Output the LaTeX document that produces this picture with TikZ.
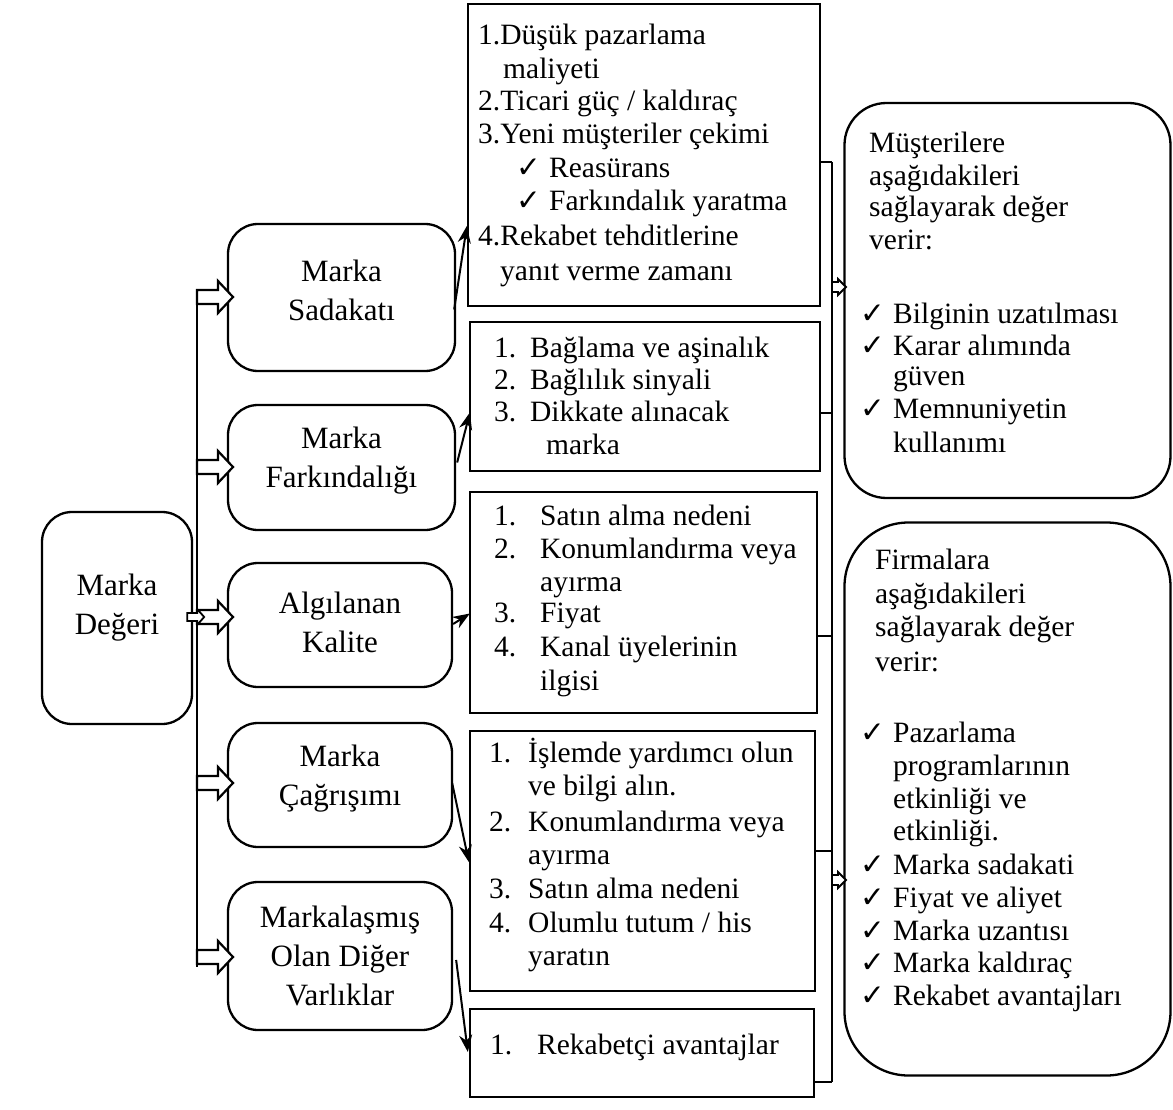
\documentclass[tikz,border=0pt]{standalone}
\usepackage{fontspec}
\setmainfont{Liberation Serif}
\newfontfamily\symfont{DejaVu Sans}
\usetikzlibrary{calc,arrows.meta}

% check mark followed by a fixed gap
\newcommand\ckm{\makebox[33pt][l]{\symfont\char"2713}}
\newcommand\numbox[2]{\makebox[#1][l]{#2}}

\begin{document}
\begin{tikzpicture}[x=1pt,y=-1pt,
  frame/.style={draw, line width=2.3pt, inner sep=0pt},
  roundbox/.style={frame, rounded corners=30pt},
  listbox/.style={frame},
  mtxt/.style={align=center, inner sep=0pt, font=\fontsize{31}{39}\selectfont},
  txt/.style={anchor=mid west, inner sep=0pt, font=\fontsize{29.5}{34}\selectfont},
  thinarrow/.style={line width=2pt, -{Stealth[length=17pt, width=13pt]}},
  wire/.style={line width=2.3pt},
  blockarrow/.style={draw, fill=white, line width=2.2pt, line join=miter}
]
\useasboundingbox (0,0) rectangle (1173,1110);

% ---------- main box ----------
\node[roundbox, minimum width=150pt, minimum height=212pt] (val) at (117,618) {};
\node[mtxt] (valt) at ($(val.center)+(0,-10)$) {Marka\\Değeri};

% ---------- middle boxes ----------
\node[roundbox, minimum width=227pt, minimum height=147pt] (sad) at (341.5,297.5) {};
\node[mtxt] (sadt) at ($(sad.center)+(0,-7)$) {Marka\\Sadakatı};
\node[roundbox, minimum width=227pt, minimum height=125pt] (far) at (341.5,467.5) {};
\node[mtxt] (fart) at ($(far.center)+(0,-7)$) {Marka\\Farkındalığı};
\node[roundbox, minimum width=224pt, minimum height=124pt] (alg) at (340,625) {};
\node[mtxt] (algt) at ($(alg.center)+(0,-3)$) {Algılanan\\Kalite};
\node[roundbox, minimum width=224pt, minimum height=124pt] (cag) at (340,785) {};
\node[mtxt] (cagt) at ($(cag.center)+(0,-6)$) {Marka\\Çağrışımı};
\node[roundbox, minimum width=224pt, minimum height=148pt] (oth) at (340,956) {};
\node[mtxt] (otht) at ($(oth.center)+(0,0)$) {Markalaşmış\\Olan Diğer\\Varlıklar};

% ---------- list boxes ----------
\node[listbox, minimum width=352pt, minimum height=302pt] (la) at (644,155) {};
\node[listbox, minimum width=350pt, minimum height=149pt] (lb) at (645,396.5) {};
\node[listbox, minimum width=347pt, minimum height=221pt] (lc) at (643.5,602.5) {};
\node[listbox, minimum width=345pt, minimum height=260pt] (ld) at (642.5,861) {};
\node[listbox, minimum width=344pt, minimum height=88pt] (le) at (642,1053) {};

% ---------- right boxes ----------
\node[frame, rounded corners=42pt, minimum width=326pt, minimum height=395pt] (ra) at (1007.5,300.5) {};
\node[frame, rounded corners=64pt, minimum width=326pt, minimum height=553pt] (rb) at (1007.5,799) {};

% ---------- left spine with block arrows ----------
\coordinate (spinetop) at (197,289);
\coordinate (spinebot) at (197,967);
\draw[wire] (spinetop) -- (spinebot);
\foreach \tgt/\yy in {sad/297, far/467, alg/617, cag/783, oth/957}{
  \draw[blockarrow] (197,\yy-7) -- (218,\yy-7) -- (218,\yy-16) -- (233,\yy)
     -- (218,\yy+16) -- (218,\yy+7) -- (197,\yy+7) -- cycle;
}
% small arrow leaving the main box
\draw[blockarrow, line width=1.8pt] ($(val.east)+(-6,-5)$) -- ($(val.east)+(4,-5)$)
  -- ($(val.east)+(4,-9)$) -- ($(val.east)+(11,-1)$) -- ($(val.east)+(4,7)$)
  -- ($(val.east)+(4,3)$) -- ($(val.east)+(-6,3)$) -- cycle;

% ---------- arrows into the lists ----------
\draw[thinarrow] ($(sad.east)+(-2,12)$) -- ($(la.west)+(0,71)$);
\draw[thinarrow] ($(far.east)+(1,-5)$) -- ($(lb.west)+(1,16)$);
\draw[thinarrow] ($(alg.east)+(0,-1)$) -- ($(lc.west)+(1,11)$);
\draw[thinarrow] ($(cag.east)+(-1,-2)$) -- ($(ld.west)+(0,1)$);
\draw[thinarrow] ($(oth.east)+(3,4)$) -- ($(le.west)+(-1,-1)$);

% ---------- right bracket ----------
\coordinate (bra) at (832,162);
\coordinate (brb) at (832,413);
\coordinate (brc) at (832,636);
\coordinate (brd) at (832,851);
\coordinate (bre) at (832,1082);
\draw[wire] (bra) -- (bre);
\draw[wire] (la.east |- bra) -- (bra);
\draw[wire] (lb.east |- brb) -- (brb);
\draw[wire] (lc.east |- brc) -- (brc);
\draw[wire] (ld.east |- brd) -- (brd);
\draw[wire] (le.east |- bre) -- (bre);
\foreach \yy in {287, 880}{
  \draw[blockarrow, line width=1.8pt] (832,\yy-5) -- (838,\yy-5) -- (838,\yy-8) -- (846,\yy)
    -- (838,\yy+8) -- (838,\yy+5) -- (832,\yy+5) -- cycle;
}

% ---------- list texts ----------
\node[txt] (a1) at (478,42) {1.Düşük pazarlama};
\node[txt] (a2) at (503,76) {maliyeti};
\node[txt] (a3) at (478,108) {2.Ticari güç / kaldıraç};
\node[txt] (a4) at (478,141) {3.Yeni müşteriler çekimi};
\node[txt] (a5) at (516,175) {\ckm Reasürans};
\node[txt] (a6) at (516,208) {\ckm Farkındalık yaratma};
\node[txt] (a7) at (478,243) {4.Rekabet tehditlerine};
\node[txt] (a8) at (500,278) {yanıt verme zamanı};

\node[txt] (b1) at (494,355) {\numbox{36pt}{1.}Bağlama ve aşinalık};
\node[txt] (b2) at (494,387) {\numbox{36pt}{2.}Bağlılık sinyali};
\node[txt] (b3) at (494,419) {\numbox{36pt}{3.}Dikkate alınacak};
\node[txt] (b4) at (546,452) {marka};

\node[txt] (c1) at (494,523) {\numbox{46pt}{1.}Satın alma nedeni};
\node[txt] (c2) at (494,556) {\numbox{46pt}{2.}Konumlandırma veya};
\node[txt] (c3) at (540,589) {ayırma};
\node[txt] (c4) at (494,620) {\numbox{46pt}{3.}Fiyat};
\node[txt] (c5) at (494,654) {\numbox{46pt}{4.}Kanal üyelerinin};
\node[txt] (c6) at (540,688) {ilgisi};

\node[txt] (d1) at (489,760) {\numbox{39pt}{1.}İşlemde yardımcı olun};
\node[txt] (d2) at (528,793) {ve bilgi alın.};
\node[txt] (d3) at (489,829) {\numbox{39pt}{2.}Konumlandırma veya};
\node[txt] (d4) at (528,862) {ayırma};
\node[txt] (d5) at (489,896) {\numbox{39pt}{3.}Satın alma nedeni};
\node[txt] (d6) at (489,930) {\numbox{39pt}{4.}Olumlu tutum / his};
\node[txt] (d7) at (528,963) {yaratın};

\node[txt] (e1) at (490,1052) {\numbox{47pt}{1.}Rekabetçi avantajlar};

% ---------- right box texts ----------
\node[txt] (r1) at (869,150) {Müşterilere};
\node[txt] (r2) at (869,183) {aşağıdakileri};
\node[txt] (r3) at (869,214) {sağlayarak değer};
\node[txt] (r4) at (869,247) {verir:};
\node[txt] (r5) at (860,321) {\ckm Bilginin uzatılması};
\node[txt] (r6) at (860,353) {\ckm Karar alımında};
\node[txt] (r7) at (893,383) {güven};
\node[txt] (r8) at (860,416) {\ckm Memnuniyetin};
\node[txt] (r9) at (893,450) {kullanımı};

\node[txt] (s1) at (875,567) {Firmalara};
\node[txt] (s2) at (875,601) {aşağıdakileri};
\node[txt] (s3) at (875,634) {sağlayarak değer};
\node[txt] (s4) at (875,669) {verir:};
\node[txt] (s5) at (860,740) {\ckm Pazarlama};
\node[txt] (s6) at (893,773) {programlarının};
\node[txt] (s7) at (893,806) {etkinliği ve};
\node[txt] (s8) at (893,838) {etkinliği.};
\node[txt] (s9) at (860,872) {\ckm Marka sadakati};
\node[txt] (s10) at (860,905) {\ckm Fiyat ve aliyet};
\node[txt] (s11) at (860,938) {\ckm Marka uzantısı};
\node[txt] (s12) at (860,970) {\ckm Marka kaldıraç};
\node[txt] (s13) at (860,1003) {\ckm Rekabet avantajları};
\end{tikzpicture}
\end{document}
